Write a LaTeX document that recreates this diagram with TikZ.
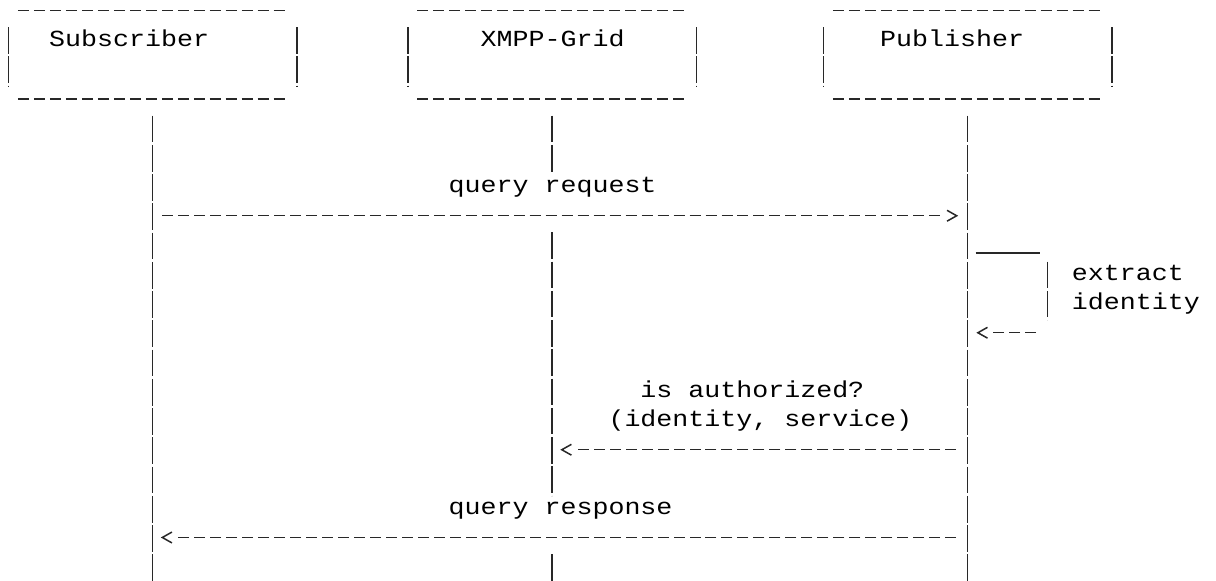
\documentclass[tikz,border=0pt]{standalone}
\usepackage{fontspec}
\usepackage{tikz}
\usetikzlibrary{arrows.meta, calc}
\newfontfamily\asciifont[FakeStretch=1.158]{Liberation Mono}
\definecolor{tinta}{RGB}{0,0,0}
\definecolor{cinza}{RGB}{40,40,40}
\pgfdeclarearrow{
    name = Menor,
    parameters = {\the\pgfarrowlength,\the\pgfarrowwidth},
    setup code = {
        \pgfarrowssettipend{0pt}
        \pgfarrowssetbackend{-\pgfarrowlength}
        \pgfarrowssetlineend{-6.5pt}
        \pgfarrowssavethe\pgfarrowlength
        \pgfarrowssavethe\pgfarrowwidth
    },
    drawing code = {
        \pgfsetdash{}{0pt}
        \pgfpathmoveto{\pgfqpoint{-\pgfarrowlength}{.5\pgfarrowwidth}}
        \pgfpathlineto{\pgfpointorigin}
        \pgfpathlineto{\pgfqpoint{-\pgfarrowlength}{-.5\pgfarrowwidth}}
        \pgfusepathqstroke
    },
    defaults = {length=4.8pt, width=5.4pt}
}
\tikzset{
    caixa/.style={minimum width=143.82pt, minimum height=43.875pt, inner sep=0pt},
    hifen/.style={draw=cinza, line width=0.75pt, dash pattern=on 5.5pt off 2.49pt},
    barra/.style={draw=cinza, line width=0.75pt, dash pattern=on 13.35pt off 1.275pt},
    traco/.style={draw=cinza, line width=0.75pt},
    seta/.style={hifen, -{Menor}},
    rotulo/.style={font=\fontsize{11.5pt}{12pt}\asciifont, text=tinta, anchor=base west, inner sep=0pt}
}

\begin{document}
\begin{tikzpicture}[x=7.99pt, y=-14.625pt]
    \useasboundingbox (-0.056,0) rectangle (76.04,19.863);
    \node[caixa] (sub) at (9.5,1.876) {};
    \node[caixa] (grid) at (34.5,1.876) {};
    \node[caixa] (pub) at (60.5,1.876) {};
    \foreach \nome in {sub, grid, pub} {
        \draw[hifen, shorten <=4.75pt, shorten >=5.75pt] (\nome.north west) -- (\nome.north east);
        \draw[hifen, shorten <=4.75pt, shorten >=5.75pt] (\nome.south west) -- (\nome.south east);
        \draw[barra, shorten <=8.28pt, shorten >=6.35pt] (\nome.north west) -- (\nome.south west);
        \draw[barra, shorten <=8.28pt, shorten >=6.35pt] (\nome.north east) -- (\nome.south east);
    }
    \node[rotulo] (subname) at (3,1.595) {Subscriber};
    \node[rotulo] (gridname) at (30,1.595) {XMPP-Grid};
    \node[rotulo] (pubname) at (55,1.595) {Publisher};

    \coordinate (subend) at (9.5,19.863);
    \coordinate (pubend) at (60.5,19.863);
    \coordinate (g1) at (34.5,5.942);
    \coordinate (g2) at (34.5,7.942);
    \coordinate (g3) at (34.5,16.942);
    \coordinate (g4) at (34.5,18.942);
    \coordinate (gridend) at (34.5,19.863);
    \draw[barra, shorten <=8.28pt] (sub.south) -- (subend);
    \draw[barra, shorten <=8.28pt] (pub.south) -- (pubend);
    \draw[barra, shorten <=8.28pt] (grid.south) -- (g1);
    \draw[barra] (g2) -- (g3);
    \draw[barra] (g4) -- (gridend);

    \coordinate (m1) at (0,7.376);
    \coordinate (m2) at (0,11.376);
    \coordinate (m3) at (0,15.376);
    \coordinate (m4) at (0,18.376);
    \coordinate (laco) at (65.5,8.65);
    \coordinate (lacoa) at (65.5,8.942);
    \coordinate (lacob) at (65.5,10.942);
    \coordinate (lacoc) at (65.5,11.376);

    \node[rotulo] (req) at (28,6.595) {query request};
    \draw[seta, shorten <=4.75pt, shorten >=5.5pt] (sub.south |- m1) -- (pub.south |- m1);

    \draw[traco, shorten <=4pt, shorten >=4pt] (pub.south |- laco) -- (laco);
    \draw[barra] (lacoa) -- (lacob);
    \draw[seta, shorten <=5.75pt, shorten >=5.1pt] (lacoc) -- (pub.south |- m2);
    \node[rotulo] (ext1) at (67,9.595) {extract};
    \node[rotulo] (ext2) at (67,10.595) {identity};

    \node[rotulo] (auth1) at (40,13.595) {is authorized?};
    \node[rotulo] (auth2) at (38,14.595) {(identity, service)};
    \draw[seta, shorten <=5.75pt, shorten >=4.8pt] (pub.south |- m3) -- (grid.south |- m3);

    \node[rotulo] (resp) at (28,17.595) {query response};
    \draw[seta, shorten <=5.75pt, shorten >=4.8pt] (pub.south |- m4) -- (sub.south |- m4);
\end{tikzpicture}
\end{document}
